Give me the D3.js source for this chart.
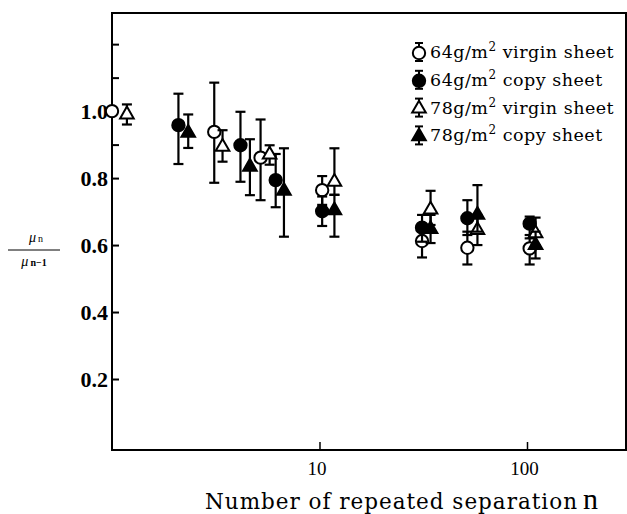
<!DOCTYPE html>
<html><head><meta charset="utf-8">
<script src="https://cdn.jsdelivr.net/npm/d3@7"></script>
<style>body{margin:0;background:#fff}svg{display:block}text{font-family:"Liberation Serif","DejaVu Serif",serif;fill:#000}</style>
</head><body><svg id="c" width="627" height="514"></svg>
<script>
const seriesNames = ["64g/m\u00b2 virgin sheet","64g/m\u00b2 copy sheet","78g/m\u00b2 virgin sheet","78g/m\u00b2 copy sheet"];
const seriesShape = ["circle","circle","triangle","triangle"];
const seriesFilled = [false,true,false,true];
// n positions (slightly offset in the original figure for visibility)
const nVals = [
  [1.0, 3.11, 5.2, 10.3, 31.2, 51.6, 103],
  [2.09, 4.16, 6.15, 10.3, 31.2, 51.6, 103],
  [1.18, 3.41, 5.75, 11.8, 34.3, 57.7, 110],
  [2.33, 4.62, 6.74, 11.8, 34.3, 57.7, 110]
];
const yVals = [
  [1.00, 0.938, 0.861, 0.764, 0.612, 0.592, 0.590],
  [0.958, 0.898, 0.794, 0.701, 0.652, 0.680, 0.664],
  [0.99, 0.893, 0.870, 0.789, 0.706, 0.645, 0.635],
  [0.935, 0.834, 0.762, 0.704, 0.648, 0.690, 0.600]
];
const yLo = [
  [1.00, 0.786, 0.734, 0.720, 0.563, 0.542, 0.542],
  [0.842, 0.789, 0.713, 0.657, 0.610, 0.630, 0.620],
  [0.96, 0.849, 0.840, 0.750, 0.660, 0.600, 0.600],
  [0.89, 0.749, 0.625, 0.625, 0.606, 0.640, 0.560]
];
const yHi = [
  [1.00, 1.085, 0.975, 0.806, 0.660, 0.640, 0.630],
  [1.052, 0.998, 0.872, 0.745, 0.690, 0.734, 0.685],
  [1.02, 0.943, 0.898, 0.889, 0.762, 0.690, 0.682],
  [0.99, 0.916, 0.889, 0.750, 0.690, 0.779, 0.640]
];
const xTicks = [10, 100];
const yTicks = [0.2, 0.4, 0.6, 0.8, 1.0];
const yMinorTicks = [0.9, 1.1, 1.2];

const svg = d3.select("#c");
const L=112, R=626, T=13, B=450;
const x = d3.scaleLog().domain([1, 300]).range([L, R]);
const y = d3.scaleLinear().domain([-0.012, 1.293]).range([B, T]);

// frame
svg.append("rect").attr("x",L).attr("y",T).attr("width",R-L).attr("height",B-T)
  .attr("fill","none").attr("stroke","#000").attr("stroke-width",2);

// y axis ticks (inward)
const yAxis = d3.axisRight(y).tickValues(yTicks).tickSize(7).tickFormat(d3.format(".1f"));
const gy = svg.append("g").attr("transform",`translate(${L},0)`).call(yAxis);
gy.select(".domain").remove();
gy.selectAll("line").attr("stroke","#000").attr("stroke-width",2);
gy.selectAll("text").attr("x",-4).attr("dy","0.34em").attr("text-anchor","end").attr("font-size",22).attr("font-weight","bold")
  .style("font-family","Liberation Serif");
const gym = svg.append("g").attr("transform",`translate(${L},0)`).call(d3.axisRight(y).tickValues(yMinorTicks).tickSize(7).tickFormat(""));
gym.select(".domain").remove();
gym.selectAll("line").attr("stroke","#000").attr("stroke-width",2);

// x axis ticks (inward)
const gx = svg.append("g").attr("transform",`translate(0,${B})`).call(d3.axisTop(x).tickValues(xTicks).tickSize(8).tickFormat(d3.format("d")));
gx.select(".domain").remove();
gx.selectAll("line").attr("stroke","#000").attr("stroke-width",1.5);
gx.selectAll("text").attr("y",25).attr("dy",0).attr("dx",-3).attr("font-size",19).style("font-family","Liberation Serif");

// axis titles
const xt = svg.append("text").attr("x",205).attr("y",509).attr("text-anchor","start").attr("font-size",21.5)
  .style("font-family","DejaVu Serif");
xt.append("tspan").attr("textLength",372).attr("lengthAdjust","spacing").text("Number of repeated separation");
xt.append("tspan").attr("x",583).attr("font-size",30).style("font-family","Liberation Serif").text("n");

const yl = svg.append("g").attr("transform","translate(34,0)");
const t1 = yl.append("text").attr("x",2).attr("y",242).attr("text-anchor","middle").attr("font-size",14);
t1.append("tspan").attr("font-style","italic").text("\u03bc");
t1.append("tspan").attr("font-size",10).attr("dx",2).text("n");
yl.append("line").attr("x1",-26).attr("x2",26).attr("y1",250).attr("y2",250).attr("stroke","#000").attr("stroke-width",1);
const t2 = yl.append("text").attr("x",0).attr("y",266).attr("text-anchor","middle").attr("font-size",14);
t2.append("tspan").attr("font-style","italic").text("\u03bc");
t2.append("tspan").attr("font-size",10).attr("dx",2).attr("font-weight","bold").text("n\u22121");

function symPath(shape){
  return shape==="circle" ? d3.symbol().type(d3.symbolCircle).size(120)() : d3.symbol().type(d3.symbolTriangle).size(80)();
}

// data
seriesNames.forEach((name, s) => {
  const pts = nVals[s].map((n,i)=>({n, v:yVals[s][i], lo:yLo[s][i], hi:yHi[s][i]}));
  const g = svg.append("g");
  pts.forEach(p => {
    const cx = x(p.n);
    if (p.hi - p.lo > 0.001) {
      g.append("line").attr("x1",cx).attr("x2",cx).attr("y1",y(p.lo)).attr("y2",y(p.hi)).attr("stroke","#000").attr("stroke-width",2.2);
      [p.lo,p.hi].forEach(e => g.append("line").attr("x1",cx-5).attr("x2",cx+5).attr("y1",y(e)).attr("y2",y(e)).attr("stroke","#000").attr("stroke-width",2.2));
    }
  });
  g.selectAll("path").data(pts).join("path")
    .attr("d", symPath(seriesShape[s]))
    .attr("transform", d=>`translate(${x(d.n)},${y(d.v)})`)
    .attr("fill", seriesFilled[s] ? "#000" : "#fff")
    .attr("stroke","#000").attr("stroke-width",2);
});

// legend
const lg = svg.append("g");
seriesNames.forEach((name, s) => {
  const cy = 52 + s*27.8;
  const mx = 419;
  lg.append("line").attr("x1",mx).attr("x2",mx).attr("y1",cy-9).attr("y2",cy+9).attr("stroke","#000").attr("stroke-width",2);
  [cy-9, cy+9].forEach(e=>lg.append("line").attr("x1",mx-4).attr("x2",mx+4).attr("y1",e).attr("y2",e).attr("stroke","#000").attr("stroke-width",2));
  lg.append("path").attr("d", symPath(seriesShape[s])).attr("transform",`translate(${mx},${cy+1})`)
    .attr("fill", seriesFilled[s] ? "#000" : "#fff").attr("stroke","#000").attr("stroke-width",2);
  const parts = name.split("\u00b2");
  const t = lg.append("text").attr("x",430).attr("y",cy+6).attr("font-size",17.5).attr("letter-spacing",0.5).style("font-family","DejaVu Serif");
  t.append("tspan").text(parts[0]);
  t.append("tspan").attr("font-size",12).attr("dy",-7).text("2");
  t.append("tspan").attr("dy",7).text(parts[1]);
});
</script></body></html>
